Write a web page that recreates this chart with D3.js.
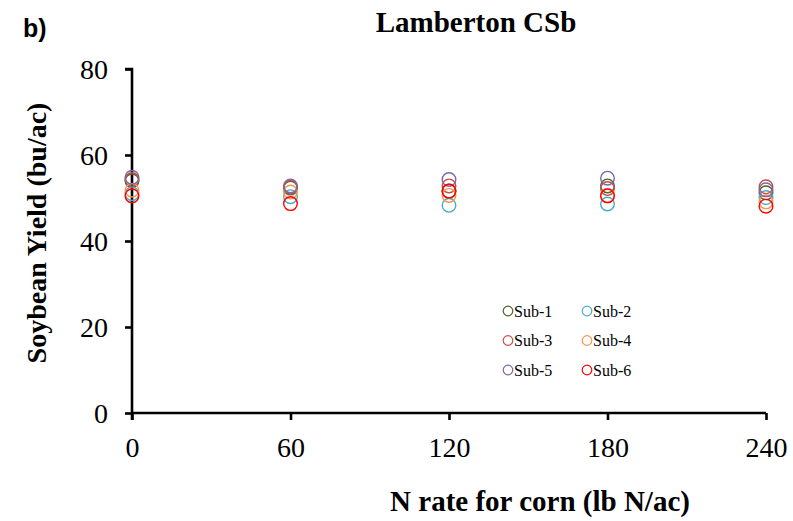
<!DOCTYPE html>
<html>
<head>
<meta charset="utf-8">
<script src="https://cdn.jsdelivr.net/npm/d3@7/dist/d3.min.js"></script>
<style>
  html, body { margin: 0; padding: 0; background: #fff; }
  svg { display: block; }
</style>
</head>
<body>
<svg id="chart" width="793" height="521"></svg>
<script>
// N rates applied to the preceding corn crop (lb N/ac)
const nRates = [0, 60, 120, 180, 240];
const xTicks = [0, 60, 120, 180, 240];
const yTicks = [0, 20, 40, 60, 80];

// Soybean yield (bu/ac) for each subplot at each N rate
const seriesNames = ["Sub-1", "Sub-2", "Sub-3", "Sub-4", "Sub-5", "Sub-6"];
const sub1 = [54.0, 52.3, 51.6, 52.8, 51.2];
const sub2 = [51.0, 50.3, 48.3, 48.6, 50.1];
const sub3 = [54.3, 52.5, 52.8, 52.2, 52.6];
const sub4 = [51.8, 51.4, 50.6, 50.6, 49.1];
const sub5 = [54.8, 52.8, 54.3, 54.6, 51.9];
const sub6 = [50.5, 48.7, 51.6, 50.5, 48.1];
const seriesValues = [sub1, sub2, sub3, sub4, sub5, sub6];
const seriesColors = ["#4f6228", "#4bacc6", "#c0504d", "#f79646", "#8064a2", "#ff0000"];

const svg = d3.select("#chart");
const serif = "'Liberation Serif', 'Times New Roman', serif";

const x = d3.scaleLinear().domain([0, 240]).range([132, 766]);
const y = d3.scaleLinear().domain([0, 80]).range([413, 69]);

// Axes
const xAxis = svg.append("g")
  .attr("transform", `translate(0,${y(0)})`)
  .call(d3.axisBottom(x).tickValues(xTicks).tickSize(7).tickPadding(17).tickFormat(d3.format("d")));
const yAxis = svg.append("g")
  .attr("transform", `translate(${x(0)},0)`)
  .call(d3.axisLeft(y).tickValues(yTicks).tickSize(7).tickPadding(17).tickFormat(d3.format("d")));

[xAxis, yAxis].forEach(g => {
  g.select(".domain").attr("stroke", "#000").attr("stroke-width", 2.6);
  g.selectAll(".tick line").attr("stroke", "#000").attr("stroke-width", 2.6);
  g.selectAll(".tick text").attr("fill", "#000")
    .style("font-family", serif).style("font-size", "28px");
});
yAxis.selectAll(".tick text").attr("dy", "0.35em");
// extend the y axis line slightly below zero
yAxis.select(".domain").attr("d", `M-7,${y(80)}H0V${y(0) + 7}`);
xAxis.select(".domain").attr("d", `M${x(0)},0H${x(240)}`);

// Data points
seriesValues.forEach((vals, si) => {
  svg.append("g").selectAll("circle")
    .data(vals)
    .join("circle")
    .attr("cx", (d, i) => x(nRates[i]))
    .attr("cy", d => y(d))
    .attr("r", 6.8)
    .attr("fill", "none")
    .attr("stroke", seriesColors[si])
    .attr("stroke-width", 1.4);
});

// Legend
const legend = svg.append("g");
seriesNames.forEach((name, i) => {
  const col = i % 2, row = Math.floor(i / 2);
  const lx = 508 + col * 79, ly = 311 + row * 29.5;
  legend.append("circle")
    .attr("cx", lx).attr("cy", ly).attr("r", 4.8)
    .attr("fill", "none").attr("stroke", seriesColors[i]).attr("stroke-width", 1.2);
  legend.append("text")
    .attr("x", lx + 6).attr("y", ly).attr("dy", "0.35em")
    .style("font-family", serif).style("font-size", "16px").attr("fill", "#000")
    .text(name);
});

// Titles
svg.append("text")
  .attr("x", 476).attr("y", 32)
  .attr("text-anchor", "middle")
  .style("font-family", serif).style("font-size", "29px").style("font-weight", "bold")
  .text("Lamberton CSb");

svg.append("text")
  .attr("x", 23).attr("y", 37)
  .style("font-family", "'Liberation Sans', Arial, sans-serif")
  .style("font-size", "25px").style("font-weight", "bold")
  .text("b)");

svg.append("text")
  .attr("transform", `translate(46,233) rotate(-90)`)
  .attr("text-anchor", "middle")
  .style("font-family", serif).style("font-size", "28px").style("font-weight", "bold")
  .text("Soybean Yield (bu/ac)");

svg.append("text")
  .attr("x", 540).attr("y", 511)
  .attr("text-anchor", "middle")
  .style("font-family", serif).style("font-size", "29px").style("font-weight", "bold")
  .text("N rate for corn (lb N/ac)");
</script>
</body>
</html>
